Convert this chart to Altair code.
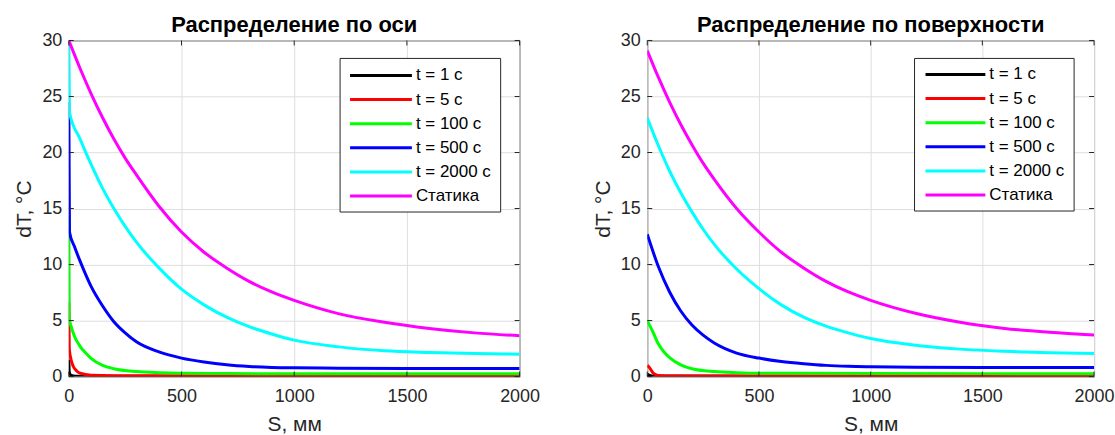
import altair as alt
import pandas as pd

# ---------------- data ----------------
LABELS = ["t = 1 с", "t = 5 с", "t = 100 с", "t = 500 с", "t = 2000 с", "Статика"]
COLORS = ["#000000", "#ff0000", "#00ff00", "#0000ff", "#00ffff", "#ff00ff"]
X_TICKS = [0, 500, 1000, 1500, 2000]
Y_TICKS = [0, 5, 10, 15, 20, 25, 30]

TITLE_AXIS = "Распределение по оси"
TITLE_SURF = "Распределение по поверхности"
X_TITLE = "S, мм"
Y_TITLE = "dT, °C"

GRID_S = [0, 50, 100, 150, 200, 250, 300, 400, 500, 600, 700, 800, 900, 1000,
          1200, 1400, 1600, 1800, 2000]

# --- left panel: distribution along the axis ---
AX_BLACK_S = [0, 2, 10, 30, 2000]
AX_BLACK_V = [1.5, 0.4, 0.1, 0.02, 0.0]
AX_RED_S = [0, 2, 10, 20, 35, 50, 100, 200, 2000]
AX_RED_V = [6.6, 2.5, 1.5, 0.9, 0.5, 0.3, 0.12, 0.08, 0.05]
AX_GREEN_S = [0, 2, 10, 25, 50, 75, 100, 150, 200, 300, 400, 500, 700, 1000, 2000]
AX_GREEN_V = [14.3, 5.2, 4.5, 3.6, 2.7, 2.1, 1.6, 1.0, 0.7, 0.45, 0.35, 0.3, 0.27, 0.25, 0.25]
AX_BLUE_S = [0, 3, 25, 50, 75, 100, 150, 200, 250, 300, 400, 500, 600, 700, 800, 900,
             1000, 1200, 1500, 2000]
AX_BLUE_V = [24.5, 12.9, 11.6, 10.3, 9.1, 8.0, 6.3, 4.9, 3.9, 3.1, 2.2, 1.65, 1.3, 1.05,
             0.9, 0.82, 0.78, 0.75, 0.73, 0.72]
AX_CYAN_S = [0, 3, 50, 100, 150, 200, 250, 300, 400, 500, 600, 700, 800, 900, 1000,
             1200, 1400, 1600, 1800, 2000]
AX_CYAN_V = [30.0, 23.6, 21.2, 18.9, 16.8, 15.0, 13.4, 12.0, 9.7, 7.8, 6.4, 5.3, 4.45,
             3.8, 3.25, 2.65, 2.3, 2.15, 2.05, 2.0]
AX_MAG_S = GRID_S
AX_MAG_V = [30.0, 27.5, 25.2, 23.1, 21.2, 19.5, 18.0, 15.2, 12.9, 11.1, 9.7, 8.5, 7.55,
            6.8, 5.6, 4.85, 4.3, 3.9, 3.65]

# --- right panel: distribution over the surface ---
SF_BLACK_S = [0, 20, 2000]
SF_BLACK_V = [0.2, 0.05, 0.0]
SF_RED_S = [0, 10, 25, 40, 60, 100, 2000]
SF_RED_V = [1.0, 0.8, 0.35, 0.15, 0.08, 0.05, 0.05]
SF_GREEN_S = [0, 25, 50, 75, 100, 150, 200, 300, 400, 500, 1000, 2000]
SF_GREEN_V = [5.0, 4.0, 2.9, 2.2, 1.7, 1.05, 0.7, 0.45, 0.35, 0.3, 0.27, 0.26]
SF_BLUE_S = [0, 50, 100, 150, 200, 250, 300, 400, 500, 600, 700, 800, 900, 1000, 1200,
             1500, 2000]
SF_BLUE_V = [12.7, 9.8, 7.55, 5.85, 4.6, 3.7, 3.0, 2.1, 1.65, 1.35, 1.15, 1.0, 0.92, 0.88,
             0.84, 0.81, 0.8]
SF_CYAN_S = GRID_S
SF_CYAN_V = [23.1, 20.6, 18.35, 16.4, 14.7, 13.15, 11.8, 9.6, 7.85, 6.4, 5.3, 4.5, 3.9,
             3.4, 2.8, 2.45, 2.25, 2.12, 2.05]
SF_MAG_S = GRID_S
SF_MAG_V = [29.1, 26.7, 24.5, 22.5, 20.7, 19.05, 17.6, 15.0, 12.9, 11.1, 9.7, 8.5, 7.55,
            6.8, 5.65, 4.85, 4.3, 3.95, 3.7]

# ---------------- style ----------------
FONT = "Liberation Sans"
TXT = "#262626"
GRID = "#dedede"


def panel(title, series, width, height, leg):
    rows = []
    for lab, (xs, ys) in zip(LABELS, series):
        for i, (x, y) in enumerate(zip(xs, ys)):
            rows.append({"S": x, "dT": y, "series": lab, "k": i})
    df = pd.DataFrame(rows)

    xsc = alt.Scale(domain=[0, 2000], nice=False, zero=False)
    ysc = alt.Scale(domain=[0, 30], nice=False, zero=False)
    color = alt.Color("series:N", scale=alt.Scale(domain=LABELS, range=COLORS), legend=None)
    xaxis = alt.Axis(values=X_TICKS, title=X_TITLE, grid=True, labelFlush=False, format="d",
                     labelPadding=11, titlePadding=8)

    lines = alt.Chart(df).mark_line(strokeWidth=3, interpolate="monotone", clip=True).encode(
        x=alt.X("S:Q", scale=xsc, axis=xaxis),
        y=alt.Y("dT:Q", scale=ysc,
                axis=alt.Axis(values=Y_TICKS, title=Y_TITLE, grid=True,
                              labelPadding=7, titlePadding=7)),
        color=color,
        order=alt.Order("k:Q"),
    )

    xt = pd.DataFrame({"S": X_TICKS})
    yt = pd.DataFrame({"dT": Y_TICKS})
    tx = alt.X("S:Q", scale=xsc, axis=xaxis)
    ty = alt.Y("dT:Q", scale=ysc, axis=None)
    tick_b = alt.Chart(xt).mark_rule(color=TXT, strokeWidth=1).encode(
        x=tx, y=alt.value(height), y2=alt.value(height - 5))
    tick_t = alt.Chart(xt).mark_rule(color=TXT, strokeWidth=1).encode(
        x=tx, y=alt.value(0), y2=alt.value(5))
    tick_l = alt.Chart(yt).mark_rule(color=TXT, strokeWidth=1).encode(
        y=ty, x=alt.value(0), x2=alt.value(5))
    tick_r = alt.Chart(yt).mark_rule(color=TXT, strokeWidth=1).encode(
        y=ty, x=alt.value(width - 5), x2=alt.value(width))

    ldf = pd.DataFrame({"series": LABELS})
    box = alt.Chart(pd.DataFrame({"a": [0]})).mark_rect(
        fill="white", stroke=TXT, strokeWidth=1).encode(
        x=alt.value(leg["x0"]), x2=alt.value(leg["x1"]),
        y=alt.value(leg["y0"]), y2=alt.value(leg["y1"]))
    ly = alt.Y("series:N", axis=None,
               scale=alt.Scale(type="point", domain=LABELS, range=[leg["r0"], leg["r1"]],
                               padding=0))
    leg_lines = alt.Chart(ldf).mark_rule(strokeWidth=3).encode(
        x=alt.value(leg["l0"]), x2=alt.value(leg["l1"]), y=ly, color=color)
    leg_text = alt.Chart(ldf).mark_text(
        align="left", baseline="middle", font=FONT, fontSize=17, color="#000000").encode(
        x=alt.value(leg["t"]), y=ly, text="series:N")

    head = alt.Chart(pd.DataFrame({"t": [title]})).mark_text(
        align="center", baseline="alphabetic", font=FONT, fontSize=22, fontWeight="bold",
        color="#000000").encode(x=alt.value(width / 2), y=alt.value(-8), text="t:N")

    return alt.layer(lines, tick_b, tick_t, tick_l, tick_r, box, leg_lines, leg_text,
                     head).resolve_scale(y="independent").properties(width=width, height=height)


left = panel(TITLE_AXIS,
             [(AX_BLACK_S, AX_BLACK_V), (AX_RED_S, AX_RED_V), (AX_GREEN_S, AX_GREEN_V),
              (AX_BLUE_S, AX_BLUE_V), (AX_CYAN_S, AX_CYAN_V), (AX_MAG_S, AX_MAG_V)],
             452, 337,
             dict(x0=272, x1=433, y0=18, y1=172, r0=35, r1=156, l0=282, l1=344, t=348))
right = panel(TITLE_SURF,
              [(SF_BLACK_S, SF_BLACK_V), (SF_RED_S, SF_RED_V), (SF_GREEN_S, SF_GREEN_V),
               (SF_BLUE_S, SF_BLUE_V), (SF_CYAN_S, SF_CYAN_V), (SF_MAG_S, SF_MAG_V)],
              448, 337,
              dict(x0=268, x1=428, y0=18, y1=171, r0=34, r1=155, l0=279, l1=339, t=343))

chart = alt.hconcat(left, right, spacing=51).properties(
    padding={"left": 13, "top": 13, "right": 0, "bottom": 0},
    background="white",
).configure_view(
    stroke=TXT, strokeWidth=1,
).configure_axis(
    labelFont=FONT, labelFontSize=18, labelColor=TXT,
    titleFont=FONT, titleFontSize=21, titleColor=TXT, titleFontWeight="normal",
    gridColor=GRID, gridWidth=1, ticks=False, tickSize=0, domain=False,
)

chart.save("out.html", embed_options={"renderer": "svg", "actions": False})
